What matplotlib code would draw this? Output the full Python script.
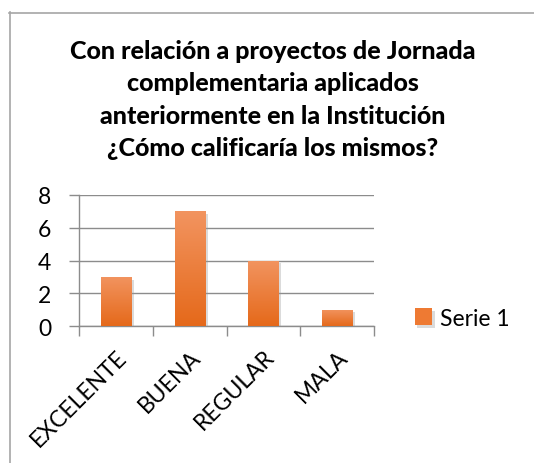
import matplotlib
matplotlib.use("Agg")
import matplotlib.pyplot as plt
import matplotlib.patheffects as pe
from matplotlib.lines import Line2D
import numpy as np

# data
categories = ["EXCELENTE", "BUENA", "REGULAR", "MALA"]
values = [3, 7, 4, 1]
series_name = "Serie 1"
y_ticks = [0, 2, 4, 6, 8]
title = ("Con relación a proyectos de Jornada\ncomplementaria aplicados\n"
         "anteriormente en la Institución\n¿Cómo calificaría los mismos?")

W, H = 534, 464
plt.rcParams['font.family'] = ['Lato', 'DejaVu Sans']

fig = plt.figure(figsize=(W / 100, H / 100), dpi=100)
fig.patch.set_facecolor('white')

# chart border (runs off the right and bottom edges)
border_col = '#A6A6A6'
fig.add_artist(Line2D([9.5 / W, 9.5 / W], [1 - 13 / H, 0], color=border_col, lw=1.2))
fig.add_artist(Line2D([9 / W, 1], [1 - 13.5 / H, 1 - 13.5 / H], color=border_col, lw=1.2))

# title
fig.text(273 / W, 1 - 100 / H, title, ha='center', va='center', fontsize=18,
         fontweight='black', linespacing=1.5, color='black')

ax = fig.add_axes([79 / W, 1 - 327 / H, (374 - 79) / W, (327 - 196) / H])
x = np.arange(len(categories))
bars = ax.bar(x, values, width=0.41, color='#EE7A33', zorder=3,
              path_effects=[pe.SimplePatchShadow(offset=(2, -2), shadow_rgbFace='#999999', alpha=0.35),
                            pe.Normal()])

# vertical gradient inside each bar
grad = np.linspace(0, 1, 256).reshape(-1, 1)
cmap = matplotlib.colors.LinearSegmentedColormap.from_list('o', ['#E5691A', '#F29460'])
for b in bars:
    x0, y0 = b.get_x(), b.get_y()
    im = ax.imshow(grad, extent=[x0, x0 + b.get_width(), y0, y0 + b.get_height()],
                   origin='lower', aspect='auto', cmap=cmap, zorder=4)
    im.set_clip_path(b)

ax.set_xlim(-0.5, len(categories) - 0.5)
ax.set_ylim(0, 8)
ax.set_yticks(y_ticks)
ax.set_yticklabels([str(t) for t in y_ticks], fontsize=16.5)
ax.yaxis.grid(True, color='#8C8C8C', lw=1.0, zorder=0)
ax.set_axisbelow(True)
ax.tick_params(axis='y', length=7, width=1.0, color='#8C8C8C', pad=13)

# category ticks on boundaries, labels centred
ax.set_xticks(np.arange(len(categories) + 1) - 0.5)
ax.set_xticklabels([])
ax.set_xticks(x, minor=True)
ax.set_xticklabels(categories, minor=True, rotation=45, ha='right',
                   rotation_mode='anchor', fontsize=16.5)
ax.tick_params(axis='x', which='major', length=7, width=1.0, color='#8C8C8C')
ax.tick_params(axis='x', which='minor', length=0, pad=14)

for s in ['top', 'right']:
    ax.spines[s].set_visible(False)
for s in ['left', 'bottom']:
    ax.spines[s].set_color('#8C8C8C')
    ax.spines[s].set_linewidth(1.0)

leg = fig.legend([bars[0]], [series_name], loc='center left',
                 bbox_to_anchor=(394 / W, 1 - 319 / H), frameon=False,
                 fontsize=16.5, handlelength=0.75, handleheight=0.75, handletextpad=0.35)

fig.savefig('out.png', dpi=100)
